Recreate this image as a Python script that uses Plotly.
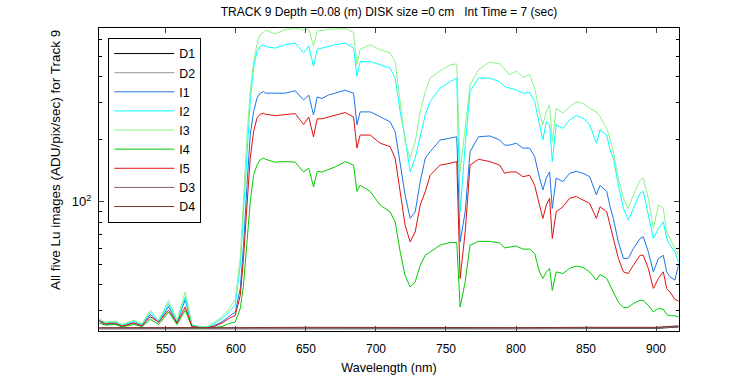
import plotly.graph_objects as go

wavelength = [502.4, 506.7, 513.9, 518.6, 526.9, 532.9, 538.8, 544.8, 551.9, 557.9,
              563.8, 568.6, 575, 580, 584, 590, 594.7, 599.5, 603.1, 605.4,
              607.9, 610.2, 612.6, 615.0, 617.3, 619.7, 621, 628, 635.2, 642.3,
              648.3, 652, 655.4, 658, 661.4, 666, 670.9, 678, 684, 686.4,
              688.7, 695.9, 703, 710.1, 713.7, 717.3, 720.8, 724.4, 728, 731.6,
              735.2, 738.7, 745.8, 753, 757.7, 760.1, 763.7, 767.2, 773.2, 781.2,
              788.3, 791.9, 795.4, 800.2, 804.9, 809.7, 813.3, 816.8, 819.2, 821.6,
              824, 825.9, 828.7, 833.5, 838.3, 843, 847.8, 852.6, 857.4, 860,
              864.8, 867.2, 869.5, 873.1, 876.7, 880.2, 883.8, 888.6, 890.9, 894.5,
              898.1, 901.7, 905.2, 907.6, 910, 913.5, 916]

I1 = [26.7, 25.8, 26.0, 25.3, 26.3, 25.5, 28.8, 26.3, 31.5, 26.3,
      34.0, 25.4, 25.0, 25.0, 25.4, 26.5, 28.1, 29.5, 38.4, 61.9,
      120, 209, 270, 314, 332, 338, 332, 332, 332, 341,
      308, 325, 261, 318, 313, 325, 332, 343, 332, 234,
      270, 270, 256, 242, 217, 150, 108, 83.2, 89.5, 125,
      162, 174, 198, 202, 205, 64.2, 89.5, 174, 205, 207,
      198, 187, 187, 191, 181, 181, 165, 130, 114, 130,
      139, 93, 130, 125, 137, 140, 137, 132, 108, 120,
      112, 94.6, 83.2, 64.2, 53.5, 53.5, 59.7, 66.7, 67.9, 57.5,
      46.1, 53.5, 55.4, 46.1, 43.6, 42.1, 49.6]

I2 = [27.0, 26.2, 26.5, 25.6, 26.7, 25.8, 29.5, 26.7, 32.5, 26.7,
      35.0, 25.6, 25.1, 25.1, 25.9, 27.5, 29.5, 32, 49.6, 89.5,
      181, 303, 438, 527, 556, 567, 556, 546, 567, 578,
      518, 560, 447, 540, 546, 556, 567, 578, 546, 400,
      470, 471, 454, 438, 392, 270, 202, 139, 162, 209,
      261, 303, 351, 377, 392, 89.5, 187, 338, 392, 392,
      377, 357, 351, 344, 332, 335, 303, 234, 198, 242,
      234, 156, 234, 225, 247, 259, 252, 234, 191, 221,
      209, 177, 162, 120, 93, 81.7, 93, 110, 112, 86.3,
      66.7, 74.5, 80.2, 66.7, 61.9, 57.5, 51.4]

I3 = [27.5, 26.5, 26.8, 25.8, 27.0, 26.0, 30.2, 27.0, 33.7, 27.0,
      37.0, 25.8, 25.1, 25.2, 26.2, 28.1, 30.4, 34, 53.5, 104,
      209, 338, 471, 567, 633, 652, 665, 640, 670, 680,
      668, 672, 560, 660, 662, 672, 675, 678, 650, 454,
      540, 567, 536, 518, 471, 292, 194, 162, 194, 270,
      338, 392, 424, 454, 459, 139, 234, 364, 430, 468,
      459, 430, 407, 424, 395, 407, 351, 270, 234, 270,
      292, 194, 281, 266, 286, 301, 297, 281, 270, 256,
      225, 200, 174, 130, 104, 93, 108, 127, 130, 104,
      74.5, 96.4, 93, 71.7, 66.7, 60.8, 55.4]

I4 = [26.2, 25.6, 25.8, 25.1, 25.8, 25.2, 27.3, 25.8, 29.6, 25.8,
      30.2, 25.0, 24.8, 24.8, 25.0, 25.2, 26.0, 26.5, 30.8, 39.8,
      64.2, 100, 134, 150, 159, 162, 160, 155, 156, 155,
      139, 145, 118, 140, 139, 143, 147, 156, 150, 112,
      120, 112, 96.4, 89.5, 80.2, 57.5, 44.4, 39.0, 41.3, 49.6,
      55.4, 57.5, 61.9, 63.8, 63.8, 31.3, 41.3, 61.9, 64.6, 64.6,
      63.5, 60.1, 60.5, 61.4, 59.3, 59.3, 56.5, 46.1, 42.9, 46.0,
      47.9, 37.6, 46.1, 45.3, 47.9, 49.2, 48.5, 46.1, 42.1, 44.8,
      42.9, 39.8, 36.9, 33.0, 31.1, 31.2, 32.5, 33.7, 33.5, 31.9,
      29.6, 30.8, 30.5, 28.8, 28.4, 28.4, 28.0]

I5 = [27.0, 26.0, 26.2, 25.3, 26.2, 25.4, 28.1, 26.5, 30.2, 26.2,
      31.3, 25.2, 24.9, 24.9, 25.2, 26.2, 27.5, 28.5, 35.6, 53.5,
      96.4, 162, 217, 252, 263, 266, 263, 259, 262, 265,
      235, 255, 205, 250, 250, 255, 259, 268, 255, 181,
      209, 209, 191, 184, 162, 112, 77.3, 64.2, 71.7, 96.4,
      112, 134, 150, 153, 156, 42.9, 71.7, 150, 160, 156,
      150, 137, 139, 139, 132, 134, 120, 96.4, 83.2, 96.4,
      104, 66.7, 89.5, 94.6, 104, 106, 102, 98.2, 83.2, 94.6,
      89.5, 77.3, 66.7, 53.5, 46.1, 45.3, 49.6, 55.4, 55.4, 47.9,
      38.4, 42.9, 46.1, 38.4, 36.9, 34.0, 33.5]

dark_wavelength = [502.4, 550, 600, 650, 700, 750, 800, 850, 900, 916]
D1 = [24.6, 24.7, 24.6, 24.6, 24.7, 24.6, 24.6, 24.7, 24.7, 25.1]
D2 = [24.7, 24.8, 24.7, 24.8, 24.7, 24.8, 24.7, 24.8, 24.8, 25.2]
D3 = [24.8, 24.9, 24.8, 24.9, 24.8, 24.9, 24.8, 24.9, 24.9, 25.3]
D4 = [24.9, 25.0, 24.9, 25.0, 24.9, 25.0, 24.9, 25.0, 25.0, 25.4]

x_ticks = [550, 600, 650, 700, 750, 800, 850, 900]
y_major = [100]
y_major_text = ["10<sup>2</sup>"]
y_minor = [30, 40, 50, 60, 70, 80, 90, 200, 300, 400, 500, 600]

series = [
    ("D1", dark_wavelength, D1, "#000000"),
    ("D2", dark_wavelength, D2, "#999999"),
    ("I1", wavelength, I1, "#1a75e6"),
    ("I2", wavelength, I2, "#00ffff"),
    ("I3", wavelength, I3, "#88f588"),
    ("I4", wavelength, I4, "#00cc00"),
    ("I5", wavelength, I5, "#e01010"),
    ("D3", dark_wavelength, D3, "#8a5c5c"),
    ("D4", dark_wavelength, D4, "#803333"),
]

FONT = "Liberation Sans, Arial, Helvetica, sans-serif"

fig = go.Figure()
for name, xs, ys, col in series:
    fig.add_trace(go.Scatter(x=xs, y=ys, name=name, mode="lines",
                             line=dict(color=col, width=1)))

fig.update_layout(
    width=750, height=375,
    margin=dict(l=99, r=71, t=28, b=44),
    paper_bgcolor="white", plot_bgcolor="white",
    font=dict(family=FONT, size=12, color="black"),
    showlegend=True,
    legend=dict(x=0.016, y=0.967, xanchor="left", yanchor="top",
                bgcolor="white", bordercolor="black", borderwidth=1,
                font=dict(size=12.4, family=FONT), itemwidth=60,
                tracegroupgap=0),
    title=dict(text="TRACK 9 Depth =0.08 (m) DISK size =0 cm\u00a0\u00a0\u00a0Int Time = 7 (sec)",
               x=0.5, xref="paper", xanchor="center",
               y=1 - 12 / 375, yref="container", yanchor="middle",
               font=dict(size=12, family=FONT)),
    xaxis=dict(range=[502.2, 916.4], tickvals=x_ticks, ticks="inside", ticklen=5,
               showline=True, linecolor="black", linewidth=1, mirror="ticks",
               showgrid=False, zeroline=False, tickfont=dict(size=12),
               ticklabelstandoff=7, automargin=False,
               title=dict(text="Wavelength (nm)", font=dict(size=12.6), standoff=7)),
    yaxis=dict(type="log", range=[1.3802, 2.8338], tickvals=y_major, ticktext=y_major_text,
               ticks="inside", ticklen=5, showline=True, linecolor="black", linewidth=1,
               mirror="ticks", showgrid=False, zeroline=False, tickfont=dict(size=13),
               ticklabelstandoff=4, automargin=False,
               minor=dict(tickvals=y_minor, ticks="inside", ticklen=3, showgrid=False,
                          tickcolor="black")),
    annotations=[dict(text="All five Lu images (ADU/pix/sec) for Track 9",
                      xref="paper", yref="paper", x=-0.074, y=0.5645,
                      xanchor="center", yanchor="middle", textangle=-90,
                      showarrow=False, font=dict(size=13.5, family=FONT))],
)

fig.write_html("out.html", config={"displayModeBar": False},
               post_script="document.body.style.margin='0px';")
